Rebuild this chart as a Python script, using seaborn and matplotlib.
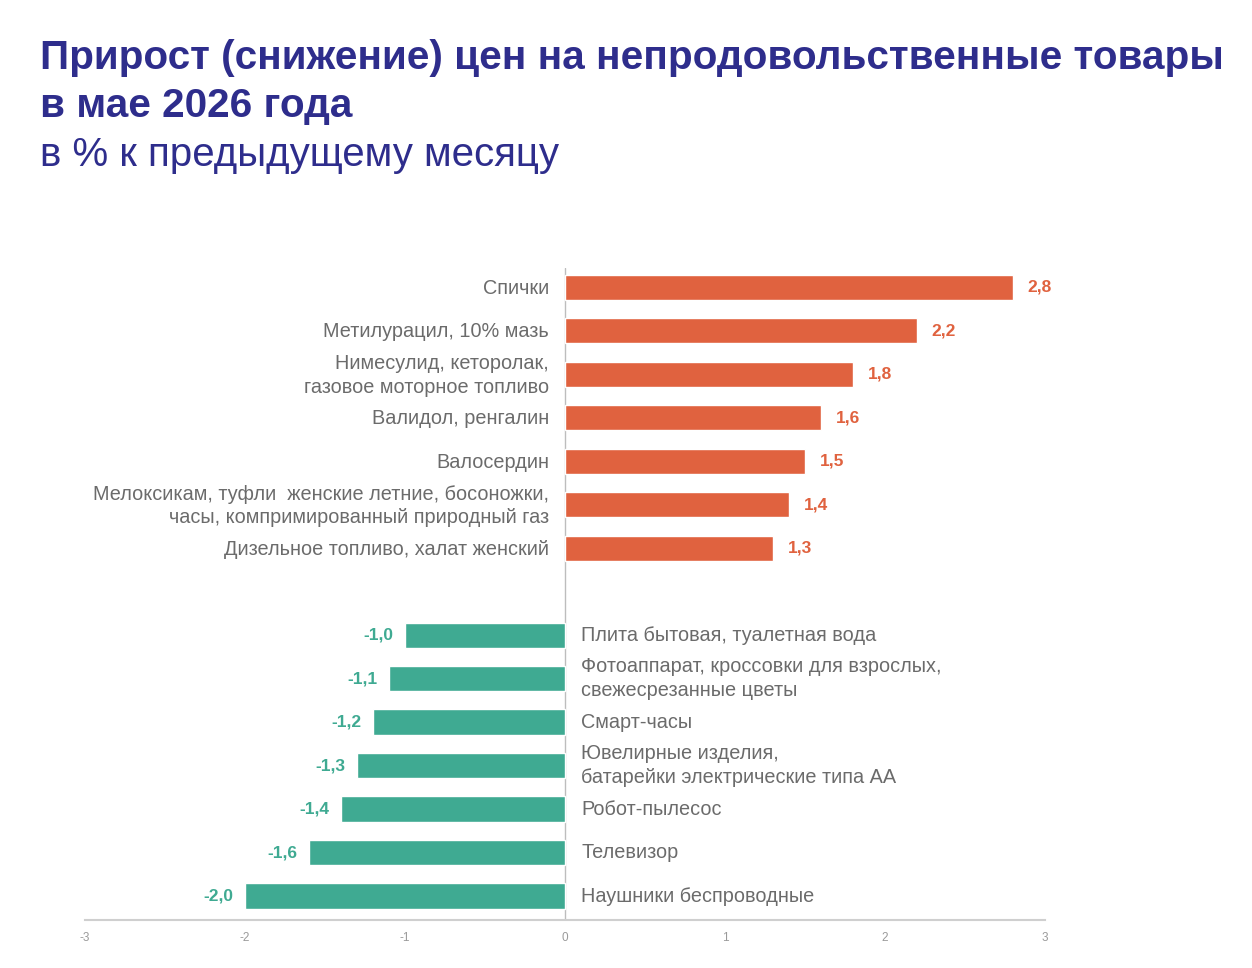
import numpy as np
import pandas as pd
import seaborn as sns
import matplotlib.pyplot as plt

# Data
pos_labels = [
    'Спички',
    'Метилурацил, 10% мазь',
    'Нимесулид, кеторолак,\nгазовое моторное топливо',
    'Валидол, ренгалин',
    'Валосердин',
    'Мелоксикам, туфли  женские летние, босоножки,\nчасы, компримированный природный газ',
    'Дизельное топливо, халат женский',
]
pos_values = [2.8, 2.2, 1.8, 1.6, 1.5, 1.4, 1.3]

neg_labels = [
    'Плита бытовая, туалетная вода',
    'Фотоаппарат, кроссовки для взрослых,\nсвежесрезанные цветы',
    'Смарт-часы',
    'Ювелирные изделия,\nбатарейки электрические типа АА',
    'Робот-пылесос',
    'Телевизор',
    'Наушники беспроводные',
]
neg_values = [-1.0, -1.1, -1.2, -1.3, -1.4, -1.6, -2.0]

x_ticks = [-3, -2, -1, 0, 1, 2, 3]

orange = '#E0623F'
teal = '#3FAA92'
gray_text = '#6b6b6b'
title_color = '#2E2D8C'

# one empty slot between the two groups
labels = pos_labels + neg_labels
values = pos_values + neg_values
rows = list(range(len(pos_values))) + list(range(len(pos_values) + 1, len(values) + 1))
df = pd.DataFrame({'label': labels, 'value': values, 'row': rows})
df['sign'] = np.where(df['value'] >= 0, 'pos', 'neg')

sns.set_theme(style='white')
plt.rcParams['font.family'] = ['Liberation Sans', 'DejaVu Sans']

fig = plt.figure(figsize=(12.52, 9.68), dpi=100)
ax = fig.add_axes([0.0679, 0.0496, 0.7668, 0.6735])

sns.barplot(data=df, x='value', y='row', hue='sign', orient='y', native_scale=True,
            palette={'pos': orange, 'neg': teal}, width=0.58, legend=False,
            saturation=1, ax=ax)

ax.set_xlim(-3, 3)
ax.set_ylim(14.55, -0.44)
ax.set_xticks(x_ticks)
ax.set_xticklabels([str(t) for t in x_ticks], fontsize=8.5, color='#9a9a9a')
ax.set_yticks([])
ax.set_xlabel('')
ax.set_ylabel('')
ax.tick_params(axis='x', length=0, pad=9)

for s in ['top', 'right', 'left']:
    ax.spines[s].set_visible(False)
ax.spines['bottom'].set_color('#cfcfcf')
ax.spines['bottom'].set_linewidth(1.5)
ax.axvline(0, color='#bdbdbd', lw=1, zorder=0)

for _, r in df.iterrows():
    v = r['value']
    txt = f'{v:.1f}'.replace('.', ',')
    if v >= 0:
        ax.text(v + 0.09, r['row'], txt, ha='left', va='center', fontsize=12.5,
                fontweight='bold', color=orange)
        ax.text(-0.1, r['row'] + 0.03, r['label'], ha='right', va='center', fontsize=14.3,
                color=gray_text, linespacing=1.3)
    else:
        ax.text(v - 0.07, r['row'], txt, ha='right', va='center', fontsize=12.5,
                fontweight='bold', color=teal)
        ax.text(0.1, r['row'], r['label'], ha='left', va='center', fontsize=14.3,
                color=gray_text, linespacing=1.3)

fig.text(0.032, 0.940, 'Прирост (снижение) цен на непродовольственные товары', fontsize=29.2,
         fontweight='bold', color=title_color, va='center', ha='left')
fig.text(0.032, 0.891, 'в мае 2026 года', fontsize=29.2,
         fontweight='bold', color=title_color, va='center', ha='left')
fig.text(0.032, 0.840, 'в % к предыдущему месяцу', fontsize=29,
         color=title_color, va='center', ha='left')

fig.savefig('out.png', dpi=100, facecolor='white')
